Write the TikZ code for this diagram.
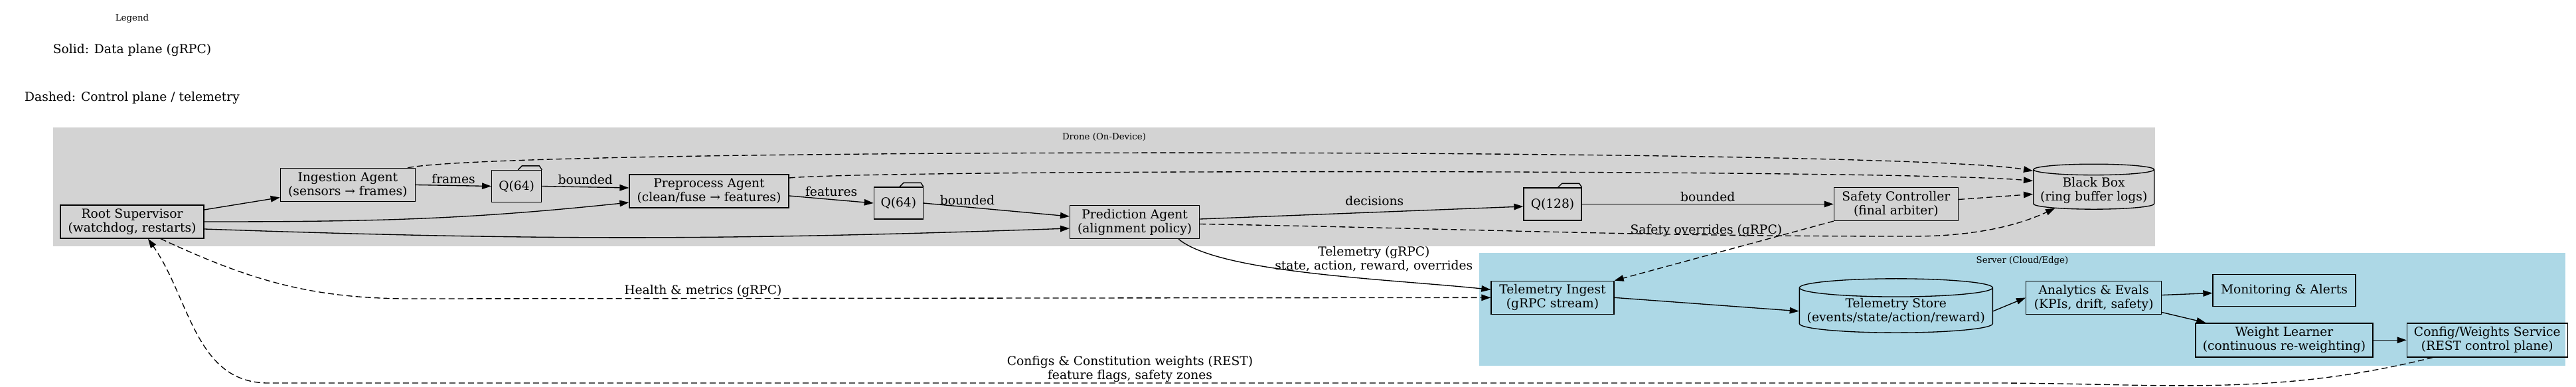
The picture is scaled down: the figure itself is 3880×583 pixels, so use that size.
\documentclass[tikz,border=0pt]{standalone}
\usepackage{fontspec}
\setmainfont{DejaVu Serif}
\usepackage{tikz}
\usetikzlibrary{arrows.meta}
\usetikzlibrary{shapes.geometric}
\usetikzlibrary{positioning}
\usetikzlibrary{fit}
\definecolor{dronegray}{HTML}{D3D3D3}
\definecolor{serverblue}{HTML}{ADD8E6}
\newcommand{\gvfont}{\fontsize{18.67}{21}\selectfont}
\newcommand{\gvsmall}{\fontsize{13.33}{16}\selectfont}

\begin{document}
\begin{tikzpicture}[
x=1pt, y=-1pt,
mybox/.style={
rectangle,
draw=black,
line width=1.33pt,
align=center,
inner sep=2pt,
minimum height=50pt,
font=\gvfont},
myqueue/.style={
mybox,
minimum width=75pt,
minimum height=48pt},
mycyl/.style={
cylinder,
shape border rotate=90,
aspect=0.1,
draw=black,
line width=1.33pt,
align=center,
inner sep=2pt,
font=\gvfont},
mycluster/.style={inner sep=0pt, draw=none},
mytitle/.style={font=\gvsmall, inner sep=1pt},
mylabel/.style={font=\gvfont, align=center, inner sep=1pt},
myarrow/.style={-{Triangle[length=14pt,width=9.5pt]}, line width=1.33pt},
mydash/.style={myarrow, dash pattern=on 9pt off 5pt}
]
\useasboundingbox (0,0) rectangle (3880,583);
\fill[white] (0,0) rectangle (3880,583);

% legend
\node[mytitle] (legend) at (199,28) {Legend};
\node[mylabel] (solid) at (199,75) {Solid: Data plane (gRPC)};
\node[mylabel] (dashed) at (199,147) {Dashed: Control plane / telemetry};

% clusters
\node[mycluster, fill=dronegray, fit={(80,192) (3246,371)}] (drone) {};
\node[mytitle, below=7pt of drone.north] (dronet) {Drone (On-Device)};
\node[mycluster, fill=serverblue, fit={(2228,381) (3864,551)}] (server) {};
\node[mytitle, below=4pt of server.north] (servert) {Server (Cloud/Edge)};

% drone side
\node[mybox, minimum width=216pt] (root) at (199,334) {Root Supervisor\\(watchdog, restarts)};
\node[mybox, minimum width=203pt, right=114pt of root, yshift=55.5pt] (ing) {Ingestion Agent\\(sensors → frames)};
\node[myqueue, right=114pt of ing, yshift=-2pt] (q1) {Q(64)};
\node[mybox, minimum width=240pt, right=131pt of q1, yshift=-7.5pt] (pre) {Preprocess Agent\\(clean/fuse → features)};
\node[myqueue, minimum width=74pt, right=127pt of pre, yshift=-18pt] (q2) {Q(64)};
\node[mybox, minimum width=195pt, right=220pt of q2, yshift=-28.5pt] (pred) {Prediction Agent\\(alignment policy)};
\node[myqueue, minimum width=87pt, minimum height=49pt, right=487pt of pred, yshift=27pt] (q3) {Q(128)};
\node[mybox, minimum width=187pt, right=379pt of q3] (safe) {Safety Controller\\(final arbiter)};
\node[mycyl, minimum width=182pt, minimum height=68pt, right=112pt of safe, yshift=21pt] (bb) {Black Box\\(ring buffer logs)};

% server side
\node[mybox, minimum width=185pt, below=90pt of q3] (tin) {Telemetry Ingest\\(gRPC stream)};
\node[mycyl, minimum width=291pt, minimum height=70pt, below=86pt of safe] (tst) {Telemetry Store\\(events/state/action/reward)};
\node[mybox, minimum width=204pt, below=107pt of bb] (ana) {Analytics \& Evals\\(KPIs, drift, safety)};
\node[mybox, minimum width=215pt, minimum height=48pt, right=76pt of ana, yshift=11pt] (mon) {Monitoring \& Alerts};
\node[mybox, minimum width=267pt, minimum height=51pt, below=24pt of mon] (wl) {Weight Learner\\(continuous re-weighting)};
\node[mybox, minimum width=242pt, minimum height=51pt, right=50pt of wl] (cfg) {Config/Weights Service\\(REST control plane)};

% folder tabs
\foreach \q in {q1,q2,q3}
  \draw[line width=1.33pt] ([xshift=-36pt]\q.north east) -- ++(6,-6) -- ++(26,0) -- ++(4,6);

% data plane
\draw[myarrow] ([yshift=18pt]root.east) -- ([yshift=-19pt]ing.west);
\draw[myarrow] (root.east) .. controls +(0:250pt) and +(186:250pt) .. ([yshift=-17pt]pre.west);
\draw[myarrow] ([yshift=-11pt]root.east) .. controls +(-2:508pt) and +(182:508pt) .. ([yshift=-9.5pt]pred.west);
\foreach \i/\a/\j/\b/\txt/\ps/\ds in {
ing/0pt/q1/0pt/frames/0.5/1pt,
q1/0pt/pre/5pt/bounded/0.5/2pt,
pre/-7pt/q2/0pt/features/0.5/3pt,
q2/0pt/pred/8.5pt/bounded/0.3/2pt,
pred/4.5pt/q3/-3.5pt/decisions/0.54/8pt,
q3/0pt/safe/0pt/bounded/0.5/2pt}
  \draw[myarrow] ([yshift=\a]\i.east) -- node[mylabel, pos=\ps, above=\ds] {\txt} ([yshift=\b]\j.west);
\foreach \i/\a/\j/\b in {
tin/0pt/tst/0pt,
tst/0pt/ana/0pt,
ana/4pt/mon/-4pt,
wl/0pt/cfg/0pt}
  \draw[myarrow] ([yshift=\a]\i.east) -- ([yshift=\b]\j.west);
\draw[myarrow] ([yshift=-22pt]ana.east) -- ([xshift=16pt]wl.north west);
\draw[myarrow] ([xshift=66pt]pred.south) .. controls +(-40:80pt) and +(174:150pt) .. ([yshift=12pt]tin.west)
  node[mylabel, pos=0.62, above, xshift=25pt, yshift=8pt] {Telemetry (gRPC)\\state, action, reward, overrides};

% control plane / telemetry
\draw[mydash] ([xshift=-12pt]ing.north east) .. controls +(12:150pt) and +(170:200pt) .. ([yshift=29pt]bb.west);
\draw[mydash] ([yshift=20pt]pre.east) .. controls +(5:150pt) and +(175:200pt) .. ([yshift=14pt]bb.west);
\draw[mydash] ([yshift=7pt]safe.east) -- ([yshift=-6pt]bb.west);
\draw[mydash] ([yshift=-3pt]pred.east) .. controls +(-1:420pt) and +(180:420pt) .. (2880,356)
  .. controls +(0:75pt) and +(205:75pt) .. (bb.205);
\draw[mydash] (safe.south west) -- node[mylabel, pos=0.23, anchor=east, yshift=6.5pt] {Safety overrides (gRPC)} (tin.north east);
\draw[mydash] ([xshift=43pt]root.south) .. controls +(-25:150pt) and +(180:150pt) .. (620,450)
  -- node[mylabel, pos=0.27, above] {Health \& metrics (gRPC)} (tin.west);
\draw[mydash] ([xshift=-82pt]cfg.south) .. controls +(194:250pt) and +(0:250pt) .. (3000,577)
  -- node[mylabel, midway, above] {Configs \& Constitution weights (REST)\\feature flags, safety zones} (404,577)
  .. controls +(180:110pt) and +(-55:110pt) .. ([xshift=24pt]root.south);
\end{tikzpicture}
\end{document}
